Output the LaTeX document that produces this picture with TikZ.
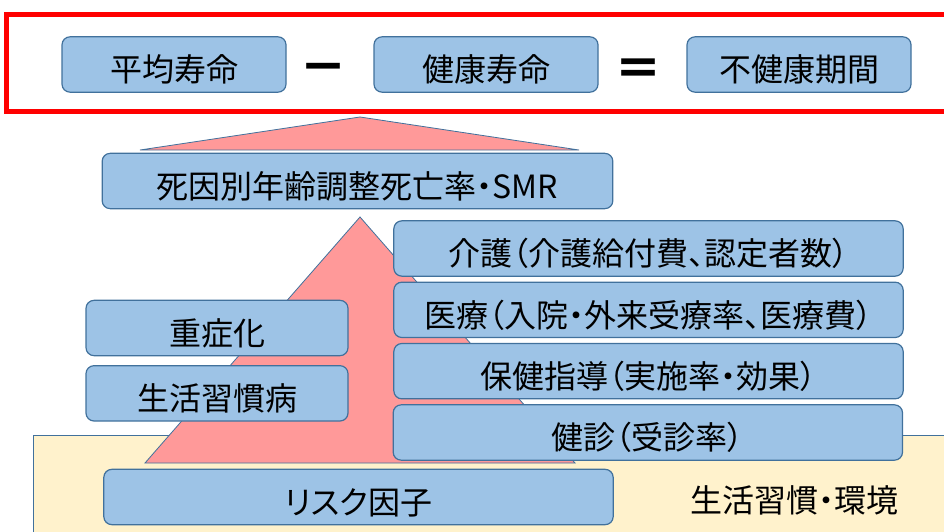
\documentclass[tikz,border=0pt]{standalone}
\usepackage{fontspec}
\setmainfont[RawFeature=+palt]{Noto Sans CJK JP}
\usetikzlibrary{
  positioning, % for relative positioning of the boxes
}
\definecolor{boxfill}{HTML}{9DC3E6}
\definecolor{boxline}{HTML}{41719C}
\definecolor{pyrfill}{HTML}{FF9999}
\definecolor{basefill}{HTML}{FFF2CC}
\definecolor{frameline}{HTML}{FF0000}
\tikzset{
  box/.style={ % style for each indicator box
    rectangle,rounded corners=6pt,draw=boxline,fill=boxfill, % rounded blue box
    line width=0.9pt, % thin outline
    minimum height=41.5pt, % same height for every box
    inner sep=0pt,outer sep=0pt, % so that node distance is measured border to border
    text height=26pt,text depth=0pt, % puts the text a little below the middle
    font=\fontsize{24}{24}\selectfont, % large text
  },
  wide/.style={ % the long boxes
    box,
    minimum width=382pt,
    node distance=4.5pt, % spacing between stacked boxes
  },
  narrow/.style={ % the short boxes on the left
    box,
    minimum width=196.5pt,
    node distance=7.5pt,
  },
  sign/.style={ % minus and equals between the top boxes
    inner sep=0pt,
    font=\fontsize{36}{36}\selectfont\bfseries,
  },
  pyramid/.style={ % the pink triangles
    fill=pyrfill,draw=boxline,line width=0.6pt,
  },
}

\begin{document}
\begin{tikzpicture}[x=0.75pt,y=-0.75pt]

	\useasboundingbox (0,0) rectangle (944,531);

	% ground of habits and environment
	\filldraw[fill=basefill,draw=boxline,line width=0.6pt] (33,435.5) rectangle (960,540);

	% pyramid and its tip
	\filldraw[pyramid] (360,117) -- (140,150) -- (579,150) -- cycle;
	\filldraw[pyramid] (360,217) -- (145,463) -- (575,463) -- cycle;

	% frame round the formula
	\draw[frameline,line width=3.8pt] (6.5,14.5) rectangle (970,111.5);

	\node[box,minimum width=168pt] (avg) at (174,64.5) {平均寿命};
	\node[box,minimum width=168pt,right=66pt of avg] (healthy) {健康寿命};
	\node[box,minimum width=168pt,right=66.75pt of healthy] (unhealthy) {不健康期間};

	\node[sign] (minus) at (323.5,74) {－};
	\node[sign] (equals) at (638.5,73) {＝};

	\node[wide,minimum width=383pt] (death) at (357.5,181) {死因別年齢調整死亡率・SMR};

	\node[wide] (care) at (648.5,248.5) {介護（介護給付費、認定者数）};
	\node[wide,below=of care] (medical) {医療（入院・外来受療率、医療費）};
	\node[wide,below=of medical] (guidance) {保健指導（実施率・効果）};
	\node[wide,below=of guidance,xshift=-0.5pt] (checkup) {健診（受診率）};

	\node[narrow] (severe) at (217,328) {重症化};
	\node[narrow,below=of severe] (disease) {生活習慣病};

	\node[wide] (risk) at (358.5,497) {リスク因子};

	\node[font=\fontsize{24}{24}\selectfont] (habits) at (794,500) {生活習慣・環境};

\end{tikzpicture}
\end{document}
